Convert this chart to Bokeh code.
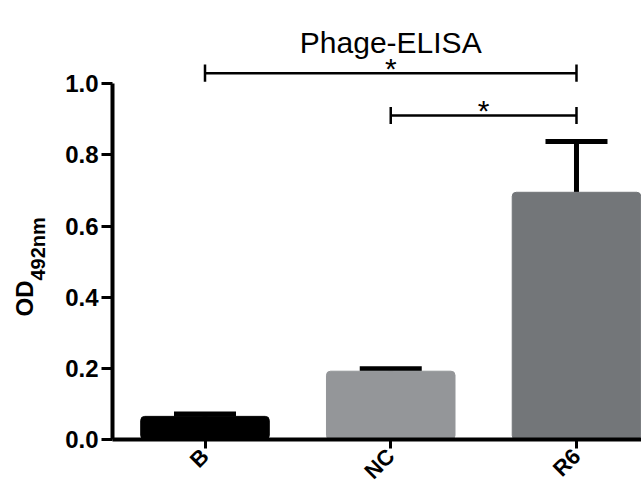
import math
from bokeh.plotting import figure
from bokeh.layouts import row
from bokeh.models import (Range1d, FixedTicker, Whisker, TeeHead,
                          ColumnDataSource, NumeralTickFormatter)
from bokeh.core.properties import value
from bokeh.embed import file_html
from bokeh.resources import INLINE

# ---- data ----
categories = ["B", "NC", "R6"]
means = [0.065, 0.192, 0.695]
errors = [0.007, 0.007, 0.143]
comparisons = [("B", "R6"), ("NC", "R6")]
significance = ["*", "*"]
y_ticks = [0.0, 0.2, 0.4, 0.6, 0.8, 1.0]
title_text = "Phage-ELISA"
y_label_main = "OD"
y_label_sub = "492nm"

# ---- style ----
bar_colors = ["#000000", "#949699", "#737679"]
bracket_heights = [1.030, 0.911]
FONT = "Liberation Sans"
W_TOTAL = 641
H = 495
LABEL_W = 50

xs = list(range(len(categories)))
src = ColumnDataSource(dict(x=xs, top=means, upper=[m + e for m, e in zip(means, errors)],
                            color=bar_colors, label=categories))

yr = Range1d(0, 1.2342)

# left strip with the rotated y-axis title
lf = figure(width=LABEL_W, height=H, output_backend="svg", toolbar_location=None,
            x_range=Range1d(0, LABEL_W), y_range=yr,
            min_border=0, x_axis_type=None, y_axis_type=None)
lf.outline_line_color = None
lf.grid.visible = False
lf.text(x=[23.5], y=[0.447], text=[y_label_main], angle=math.pi / 2,
        text_align="right", text_baseline="middle", text_font=value(FONT),
        text_font_style="bold", text_font_size="24px", text_color="black")
lf.text(x=[37.5], y=[0.447], text=[y_label_sub], angle=math.pi / 2,
        text_align="left", text_baseline="middle", text_font=value(FONT),
        text_font_style="bold", text_font_size="20px", text_color="black")

p = figure(width=W_TOTAL - LABEL_W, height=H, output_backend="svg", toolbar_location=None,
           x_range=Range1d(-0.498, 2.350), y_range=yr,
           min_border_left=112 - LABEL_W, min_border_right=0, min_border_top=0,
           min_border_bottom=56)
p.outline_line_color = None
p.xgrid.visible = False
p.ygrid.visible = False

p.vbar(x="x", top="top", width=0.692, bottom=0, color="color", source=src,
       border_radius=4)

w = Whisker(base="x", lower="top", upper="upper", source=src, dimension="height",
            line_width=5, line_color="black",
            upper_head=TeeHead(size=62, line_width=5, line_color="black"),
            lower_head=None)
p.add_layout(w)

# significance brackets
for (a, b), h, s in zip(comparisons, bracket_heights, significance):
    xa = categories.index(a)
    xb = categories.index(b)
    p.segment(x0=[xa], x1=[xb], y0=[h], y1=[h], line_color="black", line_width=2.5)
    p.segment(x0=[xa, xb], x1=[xa, xb], y0=[h - 0.024] * 2, y1=[h + 0.024] * 2,
              line_color="black", line_width=2.5)
    p.text(x=[(xa + xb) / 2], y=[h], text=[s], text_align="center",
           text_baseline="alphabetic", y_offset=-5, text_font=value(FONT),
           text_font_size="30px", text_color="black")

# title
p.text(x=[categories.index("NC")], y=[1.117], text=[title_text], text_align="center",
       text_baseline="alphabetic", text_font=value(FONT), text_font_size="30px",
       text_color="black")

# axes
xa_ = p.xaxis[0]
xa_.ticker = FixedTicker(ticks=xs)
xa_.major_label_overrides = {i: c for i, c in zip(xs, categories)}
xa_.major_label_orientation = math.pi / 4
xa_.axis_line_width = 4
xa_.major_tick_line_width = 3
xa_.major_tick_out = 9
xa_.major_tick_in = 0
xa_.minor_tick_line_color = None
xa_.major_label_text_font = FONT
xa_.major_label_text_font_style = "bold"
xa_.major_label_text_font_size = "22px"
xa_.major_label_text_color = "black"
xa_.major_label_standoff = 4

ya = p.yaxis[0]
ya.ticker = FixedTicker(ticks=y_ticks)
ya.formatter = NumeralTickFormatter(format="0.0")
ya.bounds = (0, 1)
ya.axis_line_width = 4
ya.major_tick_line_width = 3
ya.major_tick_out = 11
ya.major_tick_in = 0
ya.minor_tick_line_color = None
ya.major_label_text_font = FONT
ya.major_label_text_font_style = "bold"
ya.major_label_text_font_size = "24px"
ya.major_label_text_color = "black"
ya.major_label_standoff = 3

layout = row(lf, p, spacing=0)
open("out.html", "w").write(file_html(layout, INLINE))
